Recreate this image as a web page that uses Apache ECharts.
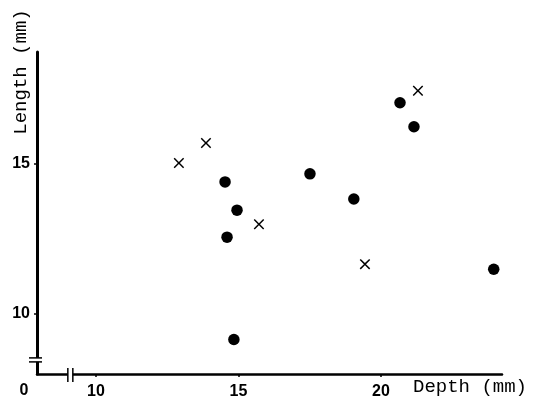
<!DOCTYPE html>
<html>
<head>
<meta charset="utf-8">
<script src="https://cdn.jsdelivr.net/npm/echarts@6/dist/echarts.min.js"></script>
<style>
  html, body { margin: 0; padding: 0; background: #fff; }
  #chart { width: 541px; height: 401px; }
</style>
</head>
<body>
<div id="chart"></div>
<script>
// depth (mm), length (mm)
const crossDepth = [12.91, 13.86, 15.72, 19.44, 21.30];
const crossLength = [15.03, 15.70, 12.99, 11.66, 17.44];
const dotDepth = [20.67, 21.16, 14.53, 14.95, 14.60, 14.84, 17.51, 19.05, 23.96];
const dotLength = [17.04, 16.24, 14.40, 13.46, 12.56, 9.15, 14.67, 13.83, 11.49];
const xTicks = [10, 15, 20];
const yTicks = [10, 15];

const pairs = (xs, ys) => xs.map((x, i) => [x, ys[i]]);

const crossPath = 'path://M0,1 L1,0 L5,4 L9,0 L10,1 L6,5 L10,9 L9,10 L5,6 L1,10 L0,9 L4,5 Z';
const labelFont = { color: '#000', fontFamily: 'Liberation Sans', fontWeight: 'bold', fontSize: 16 };

const chart = echarts.init(document.getElementById('chart'));
chart.setOption({
  animation: false,
  backgroundColor: '#fff',
  grid: { left: 37, top: 52, right: 39, bottom: 27 },
  xAxis: {
    type: 'value',
    min: 7.93,
    max: 24.25,
    splitLine: { show: false },
    axisLine: { lineStyle: { color: '#000', width: 2.5 } },
    axisTick: { customValues: xTicks, length: 3, lineStyle: { color: '#000', width: 1.5 } },
    axisLabel: Object.assign({ customValues: xTicks, margin: 10 }, labelFont)
  },
  yAxis: {
    type: 'value',
    min: 8,
    max: 18.73,
    splitLine: { show: false },
    axisLine: { lineStyle: { color: '#000', width: 3 } },
    axisTick: { customValues: yTicks, length: 3, lineStyle: { color: '#000', width: 1.5 } },
    axisLabel: Object.assign({ customValues: yTicks, margin: 7 }, labelFont)
  },
  series: [
    {
      type: 'scatter',
      data: pairs(dotDepth, dotLength),
      symbol: 'circle',
      symbolSize: 11.5,
      itemStyle: { color: '#000', opacity: 1 }
    },
    {
      type: 'scatter',
      data: pairs(crossDepth, crossLength),
      symbol: crossPath,
      symbolSize: 10.5,
      itemStyle: { color: '#000', opacity: 1 }
    }
  ]
});

// axis breaks, origin label and axis titles
const yb = chart.convertToPixel({ yAxisIndex: 0 }, 8.47);
const xb = chart.convertToPixel({ xAxisIndex: 0 }, 9.1);
const ax = chart.convertToPixel({ xAxisIndex: 0 }, 7.93);
const ay = chart.convertToPixel({ yAxisIndex: 0 }, 8);
const black = { stroke: '#000', lineWidth: 1.5 };
const titleStyle = { fill: '#000', fontFamily: 'Liberation Mono', fontSize: 19, verticalAlign: 'middle' };
chart.setOption({
  graphic: [
    { type: 'rect', shape: { x: ax - 3, y: yb - 2, width: 6, height: 4 }, style: { fill: '#fff' }, z: 100 },
    { type: 'line', shape: { x1: ax - 8, y1: yb - 2, x2: ax + 5, y2: yb - 2 }, style: black, z: 101 },
    { type: 'line', shape: { x1: ax - 8, y1: yb + 2, x2: ax + 5, y2: yb + 2 }, style: black, z: 101 },
    { type: 'rect', shape: { x: xb - 2.5, y: ay - 3, width: 5, height: 6 }, style: { fill: '#fff' }, z: 100 },
    { type: 'line', shape: { x1: xb - 2.5, y1: ay - 6, x2: xb - 2.5, y2: ay + 8 }, style: black, z: 101 },
    { type: 'line', shape: { x1: xb + 2.5, y1: ay - 6, x2: xb + 2.5, y2: ay + 8 }, style: black, z: 101 },
    {
      type: 'text', x: ax - 13, y: ay + 17,
      style: { text: '0', fontFamily: 'Liberation Sans', fontWeight: 'bold', fontSize: 16, fill: '#000', align: 'center', verticalAlign: 'middle' }
    },
    {
      type: 'text', x: 413, y: 387,
      style: Object.assign({ text: 'Depth (mm)', align: 'left' }, titleStyle)
    },
    {
      type: 'text', x: 21, y: 72, rotation: Math.PI / 2,
      style: Object.assign({ text: 'Length (mm)', align: 'center' }, titleStyle)
    }
  ]
});
</script>
</body>
</html>
